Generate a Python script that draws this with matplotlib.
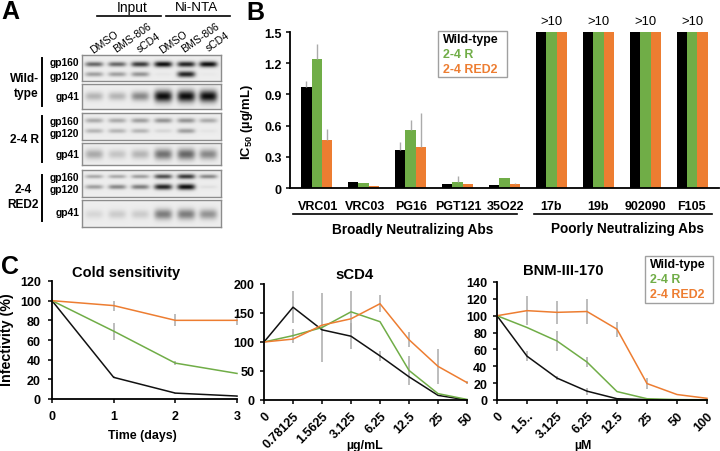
# -*- coding: utf-8 -*-
import numpy as np
import matplotlib
matplotlib.use('Agg')
import matplotlib.pyplot as plt
from matplotlib.lines import Line2D
from matplotlib.patches import Rectangle

plt.rcParams['font.family'] = ['Liberation Sans', 'DejaVu Sans']
plt.rcParams['mathtext.fontset'] = 'custom'
plt.rcParams['mathtext.bf'] = 'Liberation Sans:bold'

W, H = 720, 452
BLACK = '#111111'
GREEN = '#70AD47'
ORANGE = '#ED7D31'
GRAY = '#ABABAB'

#%% panel B data
abs_names = ['VRC01', 'VRC03', 'PG16', 'PGT121', '35O22', '17b', '19b', '902090', 'F105']
ic50_wt = [0.97, 0.06, 0.365, 0.035, 0.03, 1.5, 1.5, 1.5, 1.5]
ic50_r = [1.24, 0.05, 0.555, 0.06, 0.095, 1.5, 1.5, 1.5, 1.5]
ic50_red2 = [0.46, 0.02, 0.395, 0.035, 0.035, 1.5, 1.5, 1.5, 1.5]
err_wt = [0.055, 0, 0.08, 0, 0, 0, 0, 0, 0]
err_r = [0.14, 0, 0.095, 0.055, 0, 0, 0, 0, 0]
err_red2 = [0.11, 0, 0.325, 0.005, 0.015, 0, 0, 0, 0]

#%% panel C data
days = [0, 1, 2, 3]
cold_wt = [100, 22, 6, 3]
cold_r = [100, 69, 36.5, 26]
cold_red2 = [100, 95, 80, 80]
cold_wt_err = [0, 1, 0.5, 0.5]
cold_r_err = [0, 8.5, 2, 0]
cold_red2_err = [0, 5, 6, 5]

scd4_labels = ['0', '0.78125', '1.5625', '3.125', '6.25', '12.5', '25', '50']
scd4_wt = [100, 160, 121, 110, 76, 40, 8, 0]
scd4_r = [100, 111, 125, 152, 135, 51, 11, 1]
scd4_red2 = [100, 105, 129, 140, 166, 104, 58, 30]
scd4_wt_err = [0, 28, 0, 22, 9, 0, 0, 0]
scd4_r_err = [0, 12, 60, 36, 0, 25, 0, 0]
scd4_red2_err = [0, 0, 0, 0, 15, 13, 30, 3]

bnm_labels = ['0', '1.5..', '3.125', '6.25', '12.5', '25', '50', '100']
bnm_wt = [100, 52, 26, 10.5, 1.5, 0.5, 0, 0]
bnm_r = [100, 86, 70, 45, 10, 1.5, 0.5, 0.3]
bnm_red2 = [100, 106, 104, 105, 84, 19.5, 6.5, 2]
bnm_wt_err = [0, 6, 2, 4, 0, 0, 0, 0]
bnm_r_err = [0, 0, 11.5, 6, 0, 0, 0, 0]
bnm_red2_err = [0, 17, 14, 15, 9, 7, 0, 0]

#%% panel A data, band darkness per lane
wt_gp160 = [0.6, 0.6, 0.8, 1.0, 0.9, 1.0]
wt_gp120 = [0.35, 0.35, 0.4, 0.03, 0.9, 0.02]
wt_gp41 = [0.25, 0.25, 0.45, 1.0, 1.0, 1.0]
r_gp160 = [0.3, 0.3, 0.35, 0.4, 0.4, 0.3]
r_gp120 = [0.25, 0.25, 0.25, 0.1, 0.35, 0.04]
r_gp41 = [0.3, 0.18, 0.25, 0.55, 0.6, 0.45]
red2_gp160 = [0.3, 0.3, 0.35, 0.7, 0.8, 0.45]
red2_gp120 = [0.35, 0.45, 0.5, 0.9, 1.0, 0.06]
red2_gp41 = [0.1, 0.15, 0.15, 0.5, 0.5, 0.4]

fig = plt.figure(figsize=(W / 100, H / 100), dpi=100)


def caja(x0, y0, x1, y1):
    # y0 is the top edge, in pixels from the top of the image
    return fig.add_axes([x0 / W, 1 - y1 / H, (x1 - x0) / W, (y1 - y0) / H])


def texto(x, y, s, size=8, weight='bold', ha='center', color='black', rot=0):
    fig.text(x / W, 1 - y / H, s, fontsize=size, fontweight=weight, ha=ha, va='center',
             color=color, rotation=rot, rotation_mode='anchor')


def linea(x0, y0, x1, y1, lw=1.2):
    fig.add_artist(Line2D([x0 / W, x1 / W], [1 - y0 / H, 1 - y1 / H], color='black', lw=lw))


def leyenda(x0, y0, x1, y1):
    fig.add_artist(Rectangle((x0 / W, 1 - y1 / H), (x1 - x0) / W, (y1 - y0) / H, transform=fig.transFigure,
                             facecolor='white', edgecolor='#A0A0A0', lw=1, zorder=5))
    for i, (nombre, color) in enumerate(zip(['Wild-type', '2-4 R', '2-4 RED2'], ['black', GREEN, ORANGE])):
        fig.text((x0 + 5) / W, 1 - (y0 + 8 + i * 15) / H, nombre, fontsize=8.9, fontweight='bold',
                 color=color, va='center', ha='left', zorder=6)


def estilo(ax, pad=3):
    ax.spines['top'].set_visible(False)
    ax.spines['right'].set_visible(False)
    ax.spines['left'].set_linewidth(1.3)
    ax.spines['bottom'].set_linewidth(1.3)
    ax.patch.set_alpha(0)
    ax.tick_params(width=1.1, length=3, pad=pad, labelsize=9)
    for t in ax.get_xticklabels() + ax.get_yticklabels():
        t.set_fontweight('bold')


#%% panel A
def blot(x0, y0, x1, y1, bandas):
    ax = caja(x0, y0, x1, y1)
    yy, xx = np.mgrid[y0:y1:0.5, x0:x1:0.5]
    img = np.zeros(xx.shape)
    lanes = [94, 117, 140, 163, 186, 208]
    for centro, sigma, valores in bandas:
        for lx, v in zip(lanes, valores):
            s = sigma * (0.8 + 0.5 * v)
            img += v * np.exp(-((xx - lx) / 9.0) ** 4) * np.exp(-((yy - centro) / s) ** 2)
    ax.imshow(0.93 - 0.88 * np.clip(img, 0, 1), cmap='gray', vmin=0, vmax=1, aspect='auto',
              interpolation='bilinear')
    ax.set_xticks([])
    ax.set_yticks([])
    for s in ax.spines.values():
        s.set_color('#8C8C8C')
        s.set_linewidth(1)


blot(82, 56, 221, 82, [(65, 2.2, wt_gp160), (75, 2.4, wt_gp120)])
blot(82, 85, 221, 110, [(97, 4.5, wt_gp41)])
blot(82, 114, 221, 141, [(122, 2.4, r_gp160), (132, 2.4, r_gp120)])
blot(82, 144, 221, 166, [(155, 5, r_gp41)])
blot(82, 171, 221, 198, [(178, 2, red2_gp160), (188, 2.2, red2_gp120)])
blot(82, 201, 221, 228, [(215, 5, red2_gp41)])

texto(132, 8, 'Input', 10, 'normal')
texto(196, 8, 'Ni-NTA', 9.6, 'normal')
linea(97, 17, 161, 17)
linea(166, 17, 230, 17)
for x, y, s in [(104, 42, 'DMSO'), (132, 38, 'BMS-806'), (149, 43, 'sCD4'),
                (173, 42, 'DMSO'), (200, 38, 'BMS-806'), (218, 42, 'sCD4')]:
    fig.text(x / W, 1 - y / H, s, fontsize=7.6, rotation=35, ha='center', va='center')
for y, s in [(63, 'gp160'), (77, 'gp120'), (97, 'gp41'), (122, 'gp160'), (134, 'gp120'), (155, 'gp41'),
             (178, 'gp160'), (190, 'gp120'), (213, 'gp41')]:
    texto(79, y, s, 7.4, ha='right')
texto(39, 79, 'Wild-', 8.6, ha='right')
texto(39, 94, 'type', 8.6, ha='right')
texto(39, 140, '2-4 R', 8.6, ha='right')
texto(23, 190, '2-4', 8.6)
texto(23, 205, 'RED2', 8.6)
linea(42, 59, 42, 107, 1.4)
linea(42, 117, 42, 163, 1.4)
linea(42, 176, 42, 222, 1.4)

#%% panel B
ax = caja(290, 33, 719, 189)
x = np.arange(len(abs_names))
ancho = 0.222
err_kw = dict(ecolor=GRAY, elinewidth=1, capsize=0)
for desp, vals, errs, color in [(-1, ic50_wt, err_wt, 'black'), (0, ic50_r, err_r, GREEN), (1, ic50_red2, err_red2, ORANGE)]:
    ax.bar(x + desp * ancho, vals, ancho, color=color, yerr=[np.zeros(len(errs)), errs], error_kw=err_kw)
ax.set_xlim(-0.57, 8.57)
ax.set_ylim(0, 1.5)
ax.set_yticks([0, 0.3, 0.6, 0.9, 1.2, 1.5])
ax.set_yticklabels(['0', '0.3', '0.6', '0.9', '1.2', '1.5'])
ax.set_xticks([])
estilo(ax)
for i, nombre in enumerate(abs_names):
    texto(316.7 + i * 46.9 + (1 if i < 5 else 0), 207, nombre, 9)
    if i >= 5:
        ax.text(i, 1.55, '>10', ha='center', va='bottom', fontsize=9.4)
fig.text(247 / W, 1 - 122 / H, r'IC$_{\mathbf{50}}$ (µg/mL)', fontsize=9.4, fontweight='bold', rotation=90,
         ha='center', va='center')
linea(293, 215, 517, 215)
linea(534, 215, 712, 215)
texto(413, 230, 'Broadly Neutralizing Abs', 9.8)
texto(627, 229, 'Poorly Neutralizing Abs', 9.8)
leyenda(438, 32, 507, 78)


#%% panel C
def curvas(ax, xs, series):
    for vals, errs, color in series:
        ax.errorbar(xs, vals, yerr=errs, color=color, lw=1.1, ecolor=GRAY, elinewidth=1.1, capsize=0, clip_on=False)


ax = caja(52, 282, 237, 400)
curvas(ax, days, [(cold_wt, cold_wt_err, BLACK), (cold_r, cold_r_err, GREEN), (cold_red2, cold_red2_err, ORANGE)])
ax.set_xlim(0, 3)
ax.set_ylim(0, 120)
ax.set_xticks(days)
ax.set_yticks(range(0, 121, 20))
estilo(ax, pad=5)

ax = caja(264, 285, 467, 401)
pos = np.arange(len(scd4_labels))
curvas(ax, pos, [(scd4_wt, scd4_wt_err, BLACK), (scd4_r, scd4_r_err, GREEN), (scd4_red2, scd4_red2_err, ORANGE)])
ax.set_xlim(0, 7)
ax.set_ylim(0, 200)
ax.set_xticks(pos)
ax.set_xticklabels(scd4_labels, rotation=45, ha='right', rotation_mode='anchor')
ax.set_yticks(range(0, 201, 50))
estilo(ax, pad=4)

ax = caja(497, 283, 707, 401)
pos = np.arange(len(bnm_labels))
curvas(ax, pos, [(bnm_wt, bnm_wt_err, BLACK), (bnm_r, bnm_r_err, GREEN), (bnm_red2, bnm_red2_err, ORANGE)])
ax.set_xlim(0, 7)
ax.set_ylim(0, 140)
ax.set_xticks(pos)
ax.set_xticklabels(bnm_labels, rotation=45, ha='right', rotation_mode='anchor')
ax.set_yticks(range(0, 141, 20))
estilo(ax, pad=4)

texto(126, 273, 'Cold sensitivity', 10.5)
texto(355, 275, 'sCD4', 10.7)
texto(563, 271, 'BNM-III-170', 10.6)
texto(142, 436, 'Time (days)', 8.9)
texto(365, 446, 'µg/mL', 8.9)
texto(583, 446, 'µM', 8.9)
fig.text(7 / W, 1 - 340 / H, 'Infectivity (%)', fontsize=10.3, fontweight='bold', rotation=90, ha='center', va='center')
leyenda(645, 257, 713, 304)

texto(1, 12, 'A', 18, ha='left')
texto(246, 13, 'B', 18, ha='left')
texto(1, 267, 'C', 18, ha='left')

fig.savefig('out.png', dpi=100)
